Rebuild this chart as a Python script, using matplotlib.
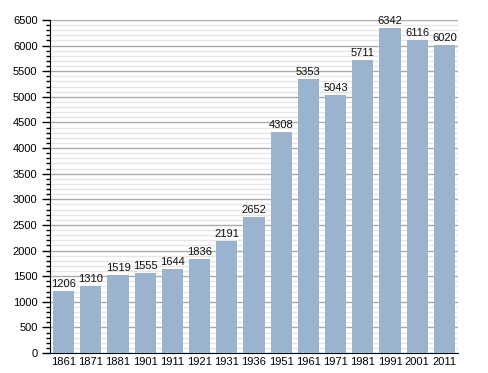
import matplotlib
matplotlib.use("Agg")
import matplotlib.pyplot as plt
from matplotlib.ticker import MultipleLocator

years = ["1861", "1871", "1881", "1901", "1911", "1921", "1931", "1936",
         "1951", "1961", "1971", "1981", "1991", "2001", "2011"]
population = [1206, 1310, 1519, 1555, 1644, 1836, 2191, 2652,
              4308, 5353, 5043, 5711, 6342, 6116, 6020]

plt.rcParams['font.family'] = ['Liberation Sans', 'DejaVu Sans']

fig = plt.figure(figsize=(4.88, 3.73), dpi=100)
ax = fig.add_axes([0.1025, 0.0536, 0.836, 0.8928])

x = list(range(len(years)))
bars = ax.bar(x, population, width=0.78, color='#9ab3cf', zorder=3)
for xi, v in zip(x, population):
    ax.annotate(str(v), (xi, v), xytext=(0, 1.5), textcoords='offset points',
                ha='center', va='bottom', fontsize=8, color='#111111', zorder=4)

ax.set_xlim(-0.5, len(years) - 0.5)
ax.set_ylim(0, 6500)
ax.set_xticks(x)
ax.set_xticklabels(years, fontsize=8)
ax.yaxis.set_major_locator(MultipleLocator(500))
ax.yaxis.set_minor_locator(MultipleLocator(100))
ax.tick_params(axis='y', which='major', length=6, width=1, labelsize=8, pad=3)
ax.tick_params(axis='y', which='minor', length=3, width=1)
ax.tick_params(axis='x', which='both', length=0, labelsize=8, pad=3)

ax.grid(axis='y', which='major', color='#aaaaaa', linewidth=1, zorder=0)
ax.grid(axis='y', which='minor', color='#e6e6e6', linewidth=1, zorder=0)
ax.set_axisbelow(True)

for s in ['top', 'right']:
    ax.spines[s].set_visible(False)
ax.spines['left'].set_color('black')
ax.spines['bottom'].set_color('black')

fig.savefig('out.png', dpi=100)
